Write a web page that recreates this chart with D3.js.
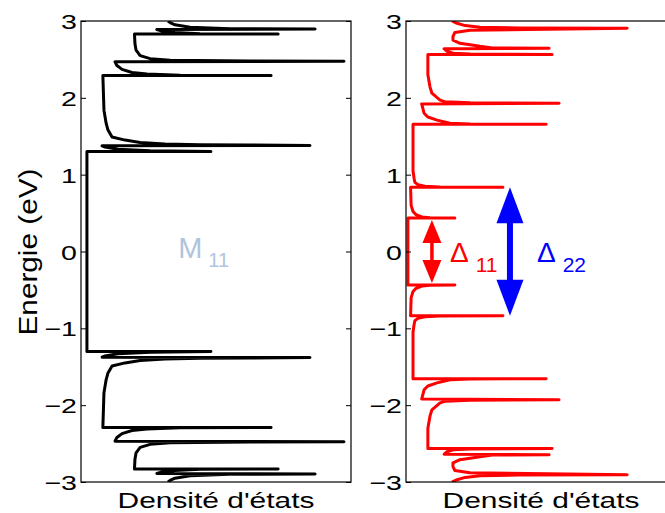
<!DOCTYPE html>
<html>
<head>
<meta charset="utf-8">
<script src="https://cdn.jsdelivr.net/npm/d3@7"></script>
<style>
  html, body { margin: 0; padding: 0; background: #fff; }
  svg { display: block; }
  text { font-family: "Liberation Sans", Arial, Helvetica, sans-serif; }
</style>
</head>
<body>
<svg id="chart" width="665" height="513"></svg>
<script>
// ---------------- data ----------------
const energyTicks = [-3, -2, -1, 0, 1, 2, 3];
const xLabel = "Densité d'états";
const yLabel = "Energie (eV)";

// Metallic tube DOS, positive energy half: [energy (eV), DOS (arb. units)]
const metallicDOS = [
  [0, 0.22], [1.30, 0.22], [1.30, 4.81], [1.31, 2.56], [1.33, 1.37], [1.36, 0.89],
  [1.375, 0.78], [1.38, 8.48], [1.385, 6.26], [1.39, 4.41], [1.40, 3.11], [1.42, 2.19],
  [1.45, 1.63], [1.49, 1.15], [1.58, 1.00], [1.67, 0.93], [1.84, 0.85], [2.29, 0.81],
  [2.29, 7.04], [2.295, 3.67], [2.31, 2.44], [2.33, 1.89], [2.37, 1.52], [2.42, 1.33],
  [2.47, 1.26], [2.475, 9.74], [2.48, 6.26], [2.49, 3.30], [2.51, 2.56], [2.55, 2.19],
  [2.62, 2.04], [2.70, 2.00], [2.83, 1.98], [2.83, 7.30], [2.835, 4.41], [2.85, 3.48],
  [2.87, 3.00], [2.89, 2.81], [2.895, 8.67], [2.90, 5.52], [2.92, 4.04], [2.95, 3.48],
  [2.98, 3.30], [3.0, 3.22]
];

// Semiconducting tube DOS, positive energy half
const semiDOS = [
  [0, 0.07], [0.435, 0.07], [0.435, 1.81], [0.44, 0.89], [0.45, 0.59], [0.48, 0.37],
  [0.52, 0.26], [0.60, 0.19], [0.835, 0.17], [0.835, 3.59], [0.84, 1.26], [0.85, 0.70],
  [0.87, 0.44], [0.90, 0.33], [0.95, 0.30], [1.05, 0.26], [1.655, 0.26], [1.655, 5.19],
  [1.66, 2.37], [1.67, 1.63], [1.71, 1.15], [1.75, 0.81], [1.80, 0.67], [1.92, 0.58],
  [1.93, 5.67], [1.935, 2.37], [1.95, 1.44], [1.97, 1.26], [2.06, 0.96], [2.14, 0.89],
  [2.30, 0.81], [2.565, 0.81], [2.565, 5.41], [2.57, 2.37], [2.58, 1.74], [2.61, 1.50],
  [2.64, 1.41], [2.645, 5.30], [2.65, 3.20], [2.67, 2.74], [2.71, 2.00], [2.75, 1.74],
  [2.80, 1.74], [2.85, 1.81], [2.88, 2.37], [2.905, 8.19], [2.91, 4.22], [2.92, 2.74],
  [2.94, 2.19], [2.97, 1.89], [3.0, 1.70]
];

// Gap arrows (half-gap energies, eV) and labels
const gapNames = ["11", "22"];
const gapHalf = [0.41, 0.835];
const gapDosPos = [0.96, 3.85];

// ---------------- helpers ----------------
function mirror(half) {
  const neg = half.slice(1).map(([e, d]) => [-e, d]).reverse();
  return neg.concat(half);
}

const svg = d3.select("#chart");
const yTop = 21, yBot = 482;
const y = d3.scaleLinear().domain([-3, 3]).range([yBot, yTop]);
const dosDomain = [0, 10];
const panels = [
  { x0: 81, x1: 351, data: mirror(metallicDOS), color: "#000000", width: 3 },
  { x0: 406, x1: 676, data: mirror(semiDOS), color: "#ff0000", width: 3 }
];
const SX = 1.36;   // horizontal stretch of axis texts
const fmt = d3.format("d");

panels.forEach((p, i) => {
  p.x = d3.scaleLinear().domain(dosDomain).range([p.x0, p.x1]);
  const g = svg.append("g");

  const clipId = "clip" + i;
  svg.append("clipPath").attr("id", clipId)
    .append("rect").attr("x", p.x0).attr("y", yTop).attr("width", p.x1 - p.x0).attr("height", yBot - yTop);

  // curve
  const line = d3.line().x(d => p.x(d[1])).y(d => y(d[0]));
  g.append("path").datum(p.data)
    .attr("clip-path", `url(#${clipId})`)
    .attr("d", line)
    .attr("fill", "none")
    .attr("stroke", p.color)
    .attr("stroke-width", p.width)
    .attr("stroke-linejoin", "round")
    .attr("stroke-linecap", "butt");

  // left axis with inward ticks
  const axL = g.append("g").attr("transform", `translate(${p.x0},0)`)
    .call(d3.axisLeft(y).tickValues(energyTicks).tickFormat(fmt).tickSizeInner(-5).tickSizeOuter(0).tickPadding(0));
  axL.select(".domain").remove();
  axL.selectAll(".tick line").attr("stroke", "#000");
  axL.selectAll(".tick text")
    .attr("x", null).attr("dy", null)
    .attr("font-size", 21)
    .attr("fill", "#000")
    .attr("text-anchor", "end")
    .attr("font-family", "Liberation Sans, Arial, sans-serif")
    .attr("transform", `translate(-4,7.5) scale(${SX},1)`);

  // right axis ticks (no labels)
  const axR = g.append("g").attr("transform", `translate(${p.x1},0)`)
    .call(d3.axisRight(y).tickValues(energyTicks).tickSizeInner(-5).tickSizeOuter(0).tickFormat(""));
  axR.select(".domain").remove();

  // frame
  g.append("rect").attr("x", p.x0).attr("y", yTop)
    .attr("width", p.x1 - p.x0).attr("height", yBot - yTop)
    .attr("fill", "none").attr("stroke", "#000").attr("stroke-width", 1.2);

  // x label
  g.append("text")
    .attr("transform", `translate(${(p.x0 + p.x1) / 2},507.5) scale(1.36,1)`)
    .attr("text-anchor", "middle")
    .attr("font-size", 22)
    .attr("fill", "#000")
    .text(xLabel);
});

// y label
svg.append("text")
  .attr("transform", "translate(37,252) rotate(-90)")
  .attr("text-anchor", "middle")
  .attr("font-size", 25)
  .attr("textLength", 167)
  .attr("lengthAdjust", "spacingAndGlyphs")
  .attr("fill", "#000")
  .text(yLabel);

// M11 annotation (left panel)
const pl = panels[0];
const m = svg.append("text").attr("x", pl.x(3.6)).attr("y", y(-0.08)).attr("fill", "#b0c4de");
m.append("tspan").attr("font-size", 29).text("M");
m.append("tspan").attr("font-size", 20).attr("dx", 6).attr("dy", 9).text("11");

// gap arrows (right panel)
const pr = panels[1];
const arrowStyles = [
  { color: "#ff0000", shaft: 3.5, headW: 19, headL: 23 },
  { color: "#0000ff", shaft: 6, headW: 27, headL: 36 }
];
gapHalf.forEach((h, i) => {
  const st = arrowStyles[i];
  const cx = pr.x(gapDosPos[i]);
  const yt = y(h), yb = y(-h);
  const a = svg.append("g").attr("fill", st.color).attr("stroke", "none");
  a.append("rect").attr("x", cx - st.shaft / 2).attr("y", yt + st.headL - 2)
    .attr("width", st.shaft).attr("height", (yb - yt) - 2 * st.headL + 4);
  a.append("path").attr("d", `M${cx},${yt} L${cx - st.headW / 2},${yt + st.headL} L${cx + st.headW / 2},${yt + st.headL} Z`);
  a.append("path").attr("d", `M${cx},${yb} L${cx - st.headW / 2},${yb - st.headL} L${cx + st.headW / 2},${yb - st.headL} Z`);
});

// Delta labels
const dl = [
  { x: pr.x(1.63), color: "#ff0000" },
  { x: pr.x(4.85), color: "#0000ff" }
];
gapNames.forEach((n, i) => {
  const t = svg.append("text").attr("x", dl[i].x).attr("y", y(-0.14)).attr("fill", dl[i].color);
  t.append("tspan").attr("font-size", 28).text("Δ");
  t.append("tspan").attr("font-size", 21).attr("dx", 7).attr("dy", 10).text(n);
});
</script>
</body>
</html>
